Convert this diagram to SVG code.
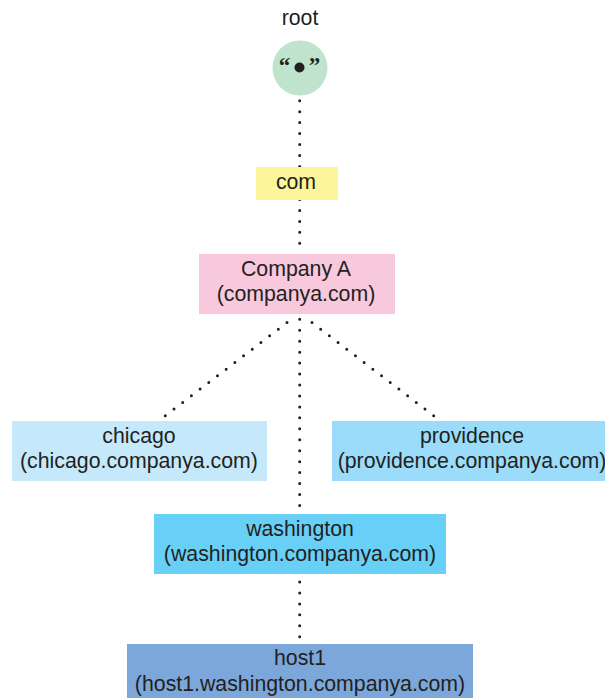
<svg xmlns="http://www.w3.org/2000/svg" width="605" height="698" viewBox="0 0 605 698">
<style>
text{font-family:"Liberation Sans",Arial,sans-serif;font-size:21.300px;fill:#231f20;text-anchor:middle}
.q{font-family:"Liberation Serif",serif;font-size:23px;font-weight:bold}
.c{stroke:#231f20;stroke-width:3;stroke-linecap:round;stroke-dasharray:0 10.950;fill:none}
</style>
<rect width="605" height="698" fill="#fff"/>
<g id="connectors">
<path class="c" d="M299.700 100.700V167"/>
<path class="c" d="M299.700 199.500V254"/>
<path class="c" d="M287 322.500L165 416"/>
<path class="c" d="M299.700 319.300V514"/>
<path class="c" d="M312 322.500L434 416"/>
<path class="c" d="M299.700 582V640"/>
</g>
<g id="root"><text x="300" y="25">root</text><circle cx="300" cy="68" r="27.500" fill="#bfe3cd"/><circle cx="299.500" cy="67.500" r="5" fill="#231f20"/><text class="q" x="284.500" y="73">“</text><text class="q" x="314.500" y="73">”</text></g>
<g id="com"><rect x="256" y="167" width="82" height="33" fill="#fdf59a"/><text x="296" y="189">com</text></g>
<g id="companya"><rect x="199" y="254" width="196" height="60" fill="#f8c8dc"/><text x="296" y="276">Company A</text><text x="296" y="301">(companya.com)</text></g>
<g id="chicago"><rect x="12" y="421" width="255" height="60" fill="#c5e8fb"/><text x="139" y="443">chicago</text><text x="139" y="468">(chicago.companya.com)</text></g>
<g id="providence"><rect x="332" y="421" width="273" height="60" fill="#9adcf9"/><text x="472" y="443">providence</text><text x="472" y="468">(providence.companya.com)</text></g>
<g id="washington"><rect x="154" y="514" width="292" height="60" fill="#68cff7"/><text x="300" y="536">washington</text><text x="300" y="561">(washington.companya.com)</text></g>
<g id="host1"><rect x="127" y="644" width="346" height="54" fill="#7ba7da"/><text x="300" y="665">host1</text><text x="300" y="691">(host1.washington.companya.com)</text></g>
</svg>
